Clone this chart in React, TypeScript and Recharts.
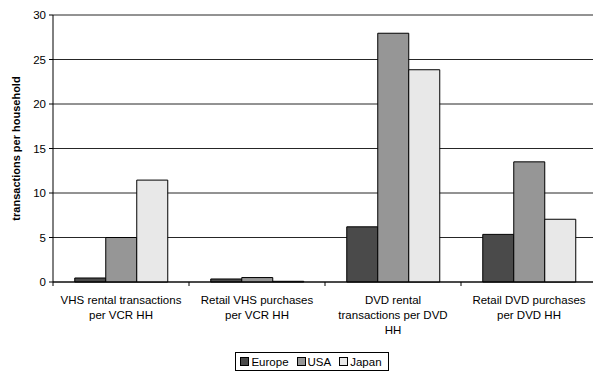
import { BarChart, Bar, XAxis, YAxis, CartesianGrid, Legend } from 'recharts';

// category labels, split into the lines shown under the axis
const categories: string[][] = [
  ['VHS rental transactions', 'per VCR HH'],
  ['Retail VHS purchases', 'per VCR HH'],
  ['DVD rental', 'transactions per DVD', 'HH'],
  ['Retail DVD purchases', 'per DVD HH'],
];

const europe = [0.45, 0.34, 6.2, 5.35];
const usa = [5.0, 0.5, 27.95, 13.5];
const japan = [11.45, 0.08, 23.85, 7.05];

const yTicks = [0, 5, 10, 15, 20, 25, 30];

const seriesNames = ['Europe', 'USA', 'Japan'];
const COLORS = ['#4a4a4a', '#969696', '#e8e8e8'];

const FONT = '"Liberation Sans", Arial, sans-serif';
const CHART_W = 597;
const Y_AXIS_W = 53;
const BAND = (CHART_W - Y_AXIS_W) / categories.length;

const data = categories.map((lines, i) => ({
  key: String(i),
  Europe: europe[i],
  USA: usa[i],
  Japan: japan[i],
}));

const CategoryTick = (props: any) => {
  const { x, y, payload, index } = props;
  const lines = categories[Number(payload.value)] || [];
  const left = x - BAND / 2;
  return (
    <g>
      <line x1={left} x2={left} y1={y - 8} y2={y - 4} stroke="#000" />
      {index === categories.length - 1 && (
        <line x1={left + BAND} x2={left + BAND} y1={y - 8} y2={y - 4} stroke="#000" />
      )}
      <text x={x} y={y} textAnchor="middle" fontSize={11.5} fontFamily={FONT} fill="#000">
        {lines.map((ln, k) => (
          <tspan key={k} x={x} dy={k === 0 ? 14 : 15}>
            {ln}
          </tspan>
        ))}
      </text>
    </g>
  );
};

// y axis title, drawn rotated beside the tick labels
const AxisTitle = (props: any) => {
  const vb = props.viewBox || { y: 15, height: 267 };
  const cx = 16;
  const cy = vb.y + vb.height / 2;
  return (
    <text
      x={cx}
      y={cy}
      transform={`rotate(-90 ${cx} ${cy})`}
      textAnchor="middle"
      dominantBaseline="central"
      fontSize={11}
      fontWeight="bold"
      fontFamily={FONT}
      fill="#000"
    >
      transactions per household
    </text>
  );
};

const LegendBox = () => (
  <div style={{ display: 'flex', justifyContent: 'center', height: 25, paddingLeft: 27 }}>
    <div
      style={{
        marginTop: 5,
        height: 17,
        border: '1px solid #000',
        display: 'flex',
        alignItems: 'center',
        padding: '0 6px 0 4px',
        fontFamily: FONT,
        fontSize: 11.5,
        color: '#000',
        background: '#fff',
      }}
    >
      {seriesNames.map((name, i) => (
        <span key={name} style={{ display: 'flex', alignItems: 'center', marginRight: i < 2 ? 8 : 0 }}>
          <span
            style={{
              width: 7,
              height: 7,
              border: '1px solid #000',
              background: COLORS[i],
              marginRight: 2,
              display: 'inline-block',
            }}
          />
          {name}
        </span>
      ))}
    </div>
  </div>
);

export default function App() {
  return (
    <div style={{ position: 'absolute', left: 0, top: 0, width: 593, height: 372, overflow: 'hidden', background: '#fff' }}>
      <BarChart
        width={CHART_W}
        height={372}
        data={data}
        margin={{ top: 15, right: 0, left: 0, bottom: 0 }}
        barCategoryGap="16%"
        barGap={0}
      >
        <CartesianGrid vertical={false} stroke="#000" strokeOpacity={0.85} />
        <XAxis
          dataKey="key"
          height={65}
          tickLine={false}
          axisLine={{ stroke: '#000' }}
          tick={<CategoryTick />}
          interval={0}
        />
        <YAxis
          width={Y_AXIS_W}
          domain={[0, 30]}
          ticks={yTicks}
          interval={0}
          tickSize={4}
          tickMargin={3}
          axisLine={{ stroke: '#000' }}
          tickLine={{ stroke: '#000' }}
          tick={{ fontSize: 11.5, fontFamily: FONT, fill: '#000' }}
          label={<AxisTitle />}
        />
        <Legend verticalAlign="bottom" height={25} content={<LegendBox />} />
        {seriesNames.map((name, i) => (
          <Bar key={name} dataKey={name} fill={COLORS[i]} stroke="#000" strokeWidth={1} isAnimationActive={false} />
        ))}
      </BarChart>
    </div>
  );
}
